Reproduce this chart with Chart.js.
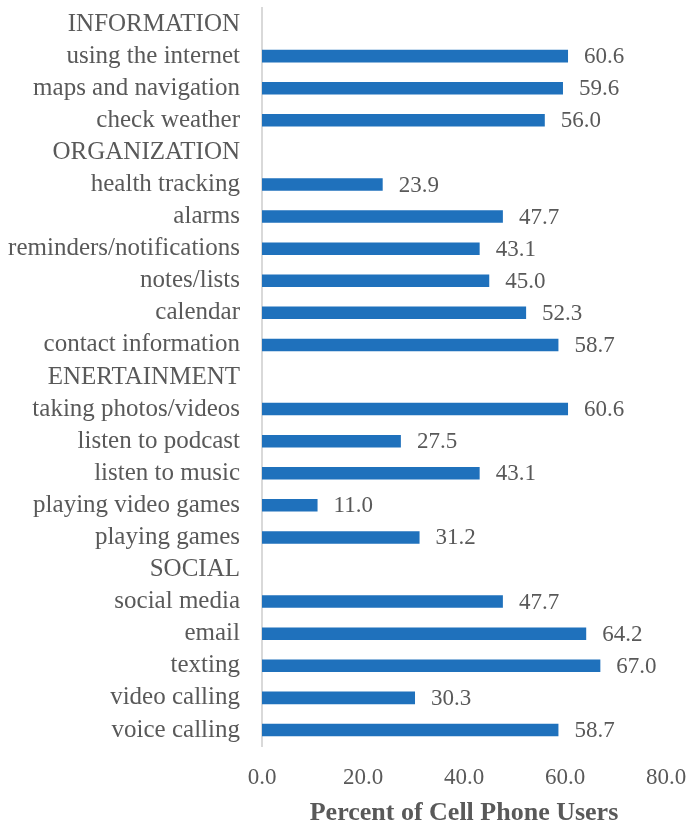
<!DOCTYPE html>
<html>
<head>
<meta charset="utf-8">
<script src="https://cdn.jsdelivr.net/npm/chart.js@4/dist/chart.umd.min.js"></script>
<style>
  html, body { margin: 0; padding: 0; background: #ffffff; }
  #wrap { width: 686px; height: 827px; position: relative; }
</style>
</head>
<body>
<div id="wrap"><canvas id="c" width="686" height="827"></canvas></div>
<script>
const categories = [
  "INFORMATION",
  "using the internet",
  "maps and navigation",
  "check weather",
  "ORGANIZATION",
  "health tracking",
  "alarms",
  "reminders/notifications",
  "notes/lists",
  "calendar",
  "contact information",
  "ENERTAINMENT",
  "taking photos/videos",
  "listen to podcast",
  "listen to music",
  "playing video games",
  "playing games",
  "SOCIAL",
  "social media",
  "email",
  "texting",
  "video calling",
  "voice calling"
];
const percentValues = [
  null, 60.6, 59.6, 56.0,
  null, 23.9, 47.7, 43.1, 45.0, 52.3, 58.7,
  null, 60.6, 27.5, 43.1, 11.0, 31.2,
  null, 47.7, 64.2, 67.0, 30.3, 58.7
];
const xTickValues = [0, 20, 40, 60, 80];
const axisTitle = "Percent of Cell Phone Users";

const FONT = "'Liberation Serif', 'Times New Roman', serif";
const TEXT = "#595959";

const valueLabels = {
  id: 'valueLabels',
  afterDatasetsDraw(chart) {
    const ctx = chart.ctx;
    const meta = chart.getDatasetMeta(0);
    ctx.save();
    ctx.font = "23px " + FONT;
    ctx.fillStyle = TEXT;
    ctx.textAlign = 'left';
    ctx.textBaseline = 'middle';
    meta.data.forEach((bar, i) => {
      const v = chart.data.datasets[0].data[i];
      if (v === null || v === undefined) return;
      ctx.fillText(v.toFixed(1), bar.x + 16, bar.y + 1);
    });
    ctx.restore();
  }
};

new Chart(document.getElementById('c'), {
  type: 'bar',
  data: {
    labels: categories,
    datasets: [{
      data: percentValues,
      backgroundColor: '#1F71BC',
      borderWidth: 0,
      categoryPercentage: 1.0,
      barPercentage: 0.39
    }]
  },
  options: {
    indexAxis: 'y',
    responsive: false,
    animation: false,
    devicePixelRatio: 1,
    layout: { padding: { top: 8, right: 20, left: 0, bottom: 0 } },
    plugins: {
      legend: { display: false },
      tooltip: { enabled: false }
    },
    scales: {
      x: {
        min: 0,
        max: 80,
        afterBuildTicks(scale) {
          scale.ticks = xTickValues.map(v => ({ value: v }));
        },
        afterFit(scale) {
          scale.height = 81;
          scale.paddingLeft = 0;
          scale.paddingRight = 0;
        },
        grid: { display: false, drawTicks: false },
        border: { display: false },
        ticks: {
          color: TEXT,
          font: { family: FONT, size: 23 },
          padding: 18,
          maxRotation: 0,
          callback: v => Number(v).toFixed(1)
        },
        title: {
          display: true,
          text: axisTitle,
          color: TEXT,
          font: { family: FONT, size: 26, weight: 'bold' },
          padding: { top: 0, bottom: -2 }
        }
      },
      y: {
        afterFit(scale) {
          scale.width = 262;
          scale.paddingTop = 0;
          scale.paddingBottom = 0;
        },
        grid: { display: false, drawTicks: false },
        border: { display: true, color: '#D9D9D9', width: 2 },
        ticks: {
          color: TEXT,
          font: { family: FONT, size: 25 },
          padding: 22,
          autoSkip: false
        }
      }
    }
  },
  plugins: [valueLabels]
});
</script>
</body>
</html>
